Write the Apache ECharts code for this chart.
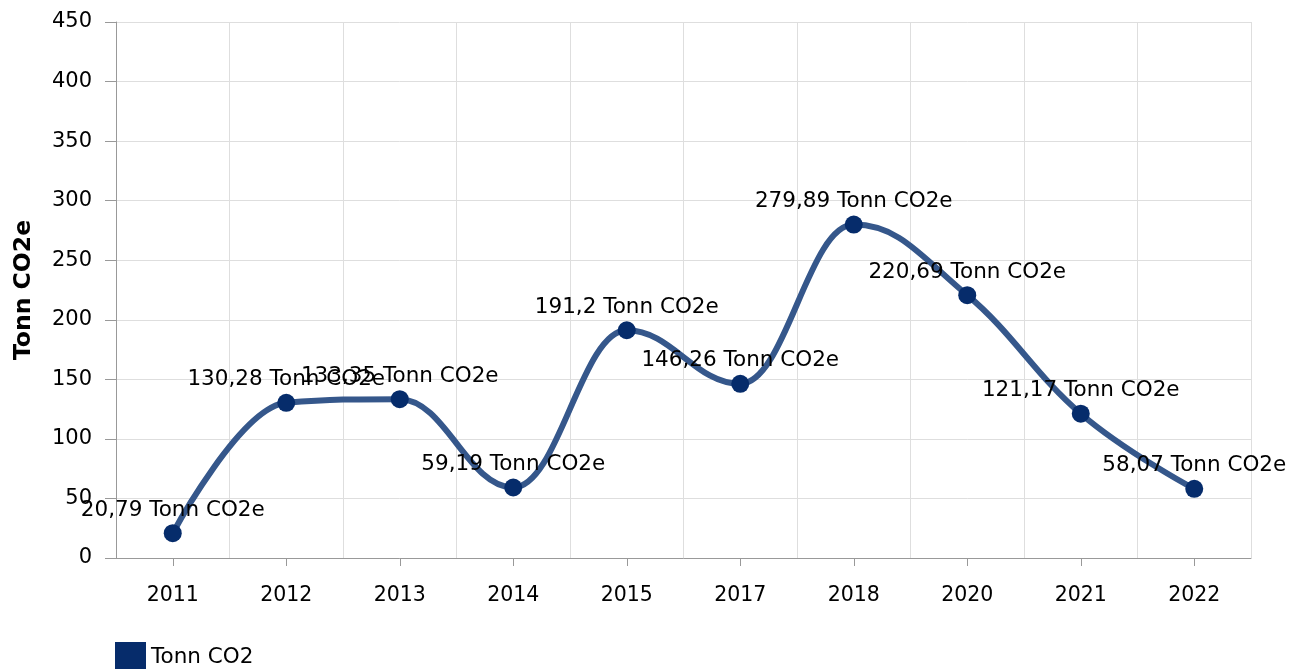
<!DOCTYPE html>
<html>
<head>
<meta charset="utf-8">
<script src="https://cdn.jsdelivr.net/npm/echarts@6/dist/echarts.min.js"></script>
<style>
html,body{margin:0;padding:0;background:#fff;}
#chart{width:1291px;height:669px;}
</style>
</head>
<body>
<div id="chart"></div>
<script>
const categories = ['2011','2012','2013','2014','2015','2017','2018','2020','2021','2022'];
const values = [20.79, 130.28, 133.35, 59.19, 191.2, 146.26, 279.89, 220.69, 121.17, 58.07];
const yTicks = {min: 0, max: 450, interval: 50};
const seriesName = 'Tonn CO2';
const unitLabel = 'Tonn CO2e';

const FONT = 'DejaVu Sans';
const LINE_COLOR = '#35578b';
const DOT_COLOR = '#062c6b';

// spline control points (smoothing 1.5, no overshoot at extremes)
function controls(api, i) {
  const p = api.coord([i, values[i]]);
  if (i === 0 || i === values.length - 1) return {l: p, r: p, p: p};
  const a = api.coord([i - 1, values[i - 1]]);
  const b = api.coord([i + 1, values[i + 1]]);
  const s = 1.5, d = 2.5;
  const lx = (s * p[0] + a[0]) / d, rx = (s * p[0] + b[0]) / d;
  let ly = (s * p[1] + a[1]) / d, ry = (s * p[1] + b[1]) / d;
  let corr = 0;
  if (rx !== lx) corr = ((ry - ly) * (rx - p[0])) / (rx - lx) + p[1] - ry;
  ly += corr; ry += corr;
  if (ly > a[1] && ly > p[1]) { ly = Math.max(a[1], p[1]); ry = 2 * p[1] - ly; }
  else if (ly < a[1] && ly < p[1]) { ly = Math.min(a[1], p[1]); ry = 2 * p[1] - ly; }
  if (ry > b[1] && ry > p[1]) { ry = Math.max(b[1], p[1]); ly = 2 * p[1] - ry; }
  else if (ry < b[1] && ry < p[1]) { ry = Math.min(b[1], p[1]); ly = 2 * p[1] - ry; }
  return {l: [lx, ly], r: [rx, ry], p: p};
}

const chart = echarts.init(document.getElementById('chart'));
chart.setOption({
  animation: false,
  textStyle: {fontFamily: FONT},
  grid: {left: 116, right: 40, top: 22, bottom: 111},
  legend: {
    left: 115, top: 642, padding: 0,
    icon: 'rect', itemWidth: 31, itemHeight: 31, itemGap: 10,
    textStyle: {fontFamily: FONT, fontSize: 21.5, color: '#000'},
    data: [seriesName]
  },
  xAxis: {
    type: 'category',
    data: categories,
    boundaryGap: true,
    axisLine: {lineStyle: {color: '#999', width: 1}},
    axisTick: {show: true, alignWithLabel: true, length: 8, lineStyle: {color: '#999'}},
    axisLabel: {color: '#000', fontSize: 20.5, fontFamily: FONT, margin: 27},
    splitLine: {show: true, lineStyle: {color: '#dedede', width: 1}}
  },
  yAxis: {
    type: 'value',
    min: yTicks.min, max: yTicks.max, interval: yTicks.interval,
    name: unitLabel,
    nameLocation: 'middle',
    nameRotate: 90,
    nameGap: 80,
    nameTextStyle: {fontFamily: FONT, fontSize: 23.5, fontWeight: 'bold', color: '#000'},
    axisLine: {show: true, lineStyle: {color: '#999', width: 1}},
    axisTick: {show: true, length: 11, lineStyle: {color: '#999'}},
    axisLabel: {color: '#000', fontSize: 21, fontFamily: FONT, margin: 24},
    splitLine: {show: true, lineStyle: {color: '#dedede', width: 1}}
  },
  series: [{
    name: 'curve',
    type: 'custom',
    silent: true,
    z: 2,
    data: values.map((v, i) => [i, v]),
    renderItem: function (params, api) {
      const i = params.dataIndex;
      if (i >= values.length - 1) return null;
      const c0 = controls(api, i), c1 = controls(api, i + 1);
      return {
        type: 'bezierCurve',
        shape: {
          x1: c0.p[0], y1: c0.p[1],
          cpx1: c0.r[0], cpy1: c0.r[1],
          cpx2: c1.l[0], cpy2: c1.l[1],
          x2: c1.p[0], y2: c1.p[1]
        },
        style: {stroke: LINE_COLOR, lineWidth: 6, fill: null, lineCap: 'round'}
      };
    }
  }, {
    name: seriesName,
    type: 'line',
    z: 3,
    data: values,
    symbol: 'circle',
    symbolSize: 18,
    itemStyle: {color: DOT_COLOR},
    lineStyle: {width: 0, opacity: 0},
    label: {
      show: true,
      position: 'top',
      distance: 3,
      color: '#000',
      fontFamily: FONT,
      fontSize: 21.5,
      formatter: p => String(p.value).replace('.', ',') + ' ' + unitLabel
    }
  }]
});
</script>
</body>
</html>
